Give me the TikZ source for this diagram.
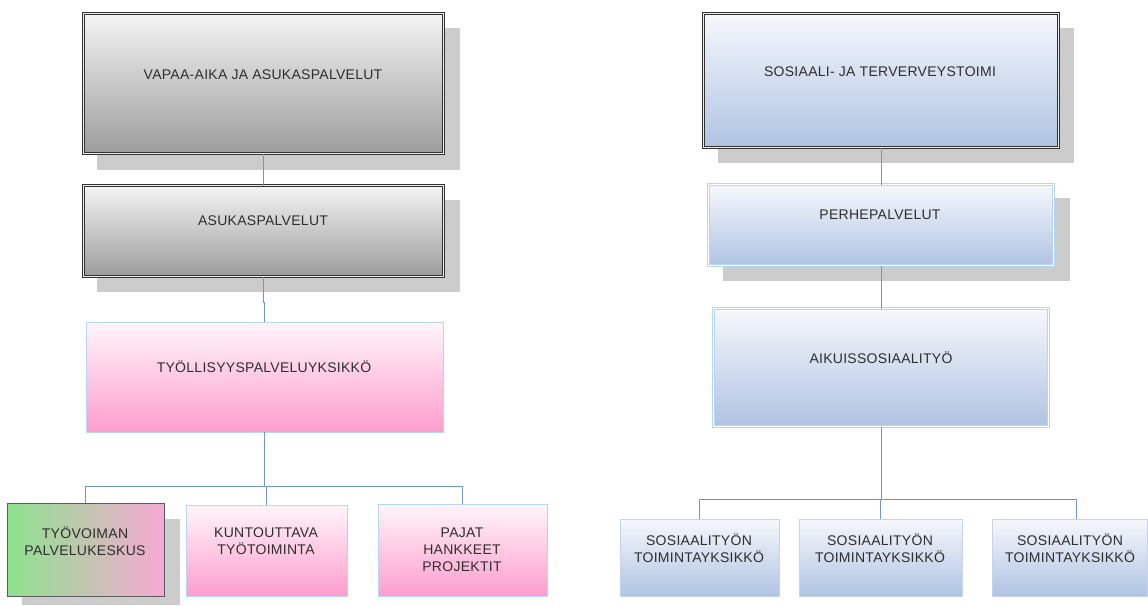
\documentclass[tikz,border=0pt]{standalone}
\usepackage{fontspec}
\setmainfont{Liberation Sans}[LetterSpace=2]
\usetikzlibrary{calc}
\definecolor{connc}{HTML}{7196CE}
\definecolor{shadowc}{HTML}{CCCCCC}
\definecolor{greytop}{HTML}{F4F4F4}
\definecolor{greybot}{HTML}{9C9C9C}
\definecolor{bluetop}{HTML}{F6F8FC}
\definecolor{bluebot}{HTML}{AFC3E2}
\definecolor{pinktop}{HTML}{FFF5FA}
\definecolor{pinkbot}{HTML}{FD9DCD}
\definecolor{greenl}{HTML}{8DE28D}
\definecolor{pinkr}{HTML}{F6A9D4}
\definecolor{darkline}{HTML}{333333}
\definecolor{lblue}{HTML}{B5D6F7}
\definecolor{gblue}{HTML}{C6D3E8}
\definecolor{txtc}{HTML}{2E2E2E}
\tikzset{
  boxbase/.style={rectangle, inner sep=0pt, outer sep=0pt},
  greybox/.style={boxbase, top color=greytop, bottom color=greybot, draw=darkline,
    line width=0.8pt, double=white!85!gray, double distance=1.4pt},
  bluedark/.style={boxbase, top color=bluetop, bottom color=bluebot, draw=darkline,
    line width=0.8pt, double=white!85!gray, double distance=1.4pt},
  bluelight/.style={boxbase, top color=bluetop, bottom color=bluebot, draw=lblue,
    line width=0.8pt, double=white, double distance=1.4pt},
  pinkbox/.style={boxbase, top color=pinktop, bottom color=pinkbot, draw=lblue, line width=0.8pt},
  mixbox/.style={boxbase, left color=greenl, right color=pinkr, draw=darkline!80, line width=0.9pt},
  bluesmall/.style={boxbase, top color=bluetop, bottom color=bluebot, draw=gblue, line width=0.8pt},
  shadowbox/.style={fill=shadowc, draw=none},
  lbl/.style={font=\fontsize{14}{17}\selectfont, text=txtc, align=center, inner sep=0pt},
  conn/.style={draw=connc, line width=0.8pt}
}
\begin{document}
\begin{tikzpicture}[x=1pt,y=-1pt]
\useasboundingbox[fill=white] (0,0) rectangle (1148,605);
% shadows
\fill[shadowbox] (97,28) rectangle (460,170);
\fill[shadowbox] (97,200) rectangle (460,292);
\fill[shadowbox] (22,519) rectangle (180,605);
\fill[shadowbox] (718,28) rectangle (1074,163);
\fill[shadowbox] (723,198) rectangle (1070,281);
% left boxes
\node[greybox, minimum width=360pt, minimum height=140pt] (b1) at (263.5,83.5) {};
\node[greybox, minimum width=360pt, minimum height=91pt] (b2) at (263.5,231) {};
\node[pinkbox, minimum width=357pt, minimum height=110pt] (b3) at (264.5,377) {};
\node[mixbox, minimum width=157pt, minimum height=93pt] (b4) at (85.5,549.5) {};
\node[pinkbox, minimum width=161pt, minimum height=91pt] (b5) at (266.5,550.5) {};
\node[pinkbox, minimum width=169pt, minimum height=92pt] (b6) at (462.5,550) {};
% right boxes
\node[bluedark, minimum width=355pt, minimum height=134pt] (r1) at (881,80.5) {};
\node[bluelight, minimum width=345pt, minimum height=81pt] (r2) at (881,225) {};
\node[bluelight, minimum width=335pt, minimum height=118pt] (r3) at (881,367.5) {};
\node[bluesmall, minimum width=159pt, minimum height=77pt] (r4) at (699.5,557.5) {};
\node[bluesmall, minimum width=163pt, minimum height=77pt] (r5) at (880.5,557.5) {};
\node[bluesmall, minimum width=155pt, minimum height=77pt] (r6) at (1069.5,557.5) {};
% labels
\node[lbl] (t1) at (263,75) {VAPAA-AIKA JA ASUKASPALVELUT};
\node[lbl] (t2) at (263,221) {ASUKASPALVELUT};
\node[lbl] (t3) at (264,367) {TYÖLLISYYSPALVELUYKSIKKÖ};
\node[lbl] (t4) at (85,541) {TYÖVOIMAN\\PALVELUKESKUS};
\node[lbl] (t5) at (266,541) {KUNTOUTTAVA\\TYÖTOIMINTA};
\node[lbl] (t6) at (462,550) {PAJAT\\HANKKEET\\PROJEKTIT};
\node[lbl] (u1) at (880,72) {SOSIAALI- JA TERVERVEYSTOIMI};
\node[lbl] (u2) at (880,215) {PERHEPALVELUT};
\node[lbl] (u3) at (881,358) {AIKUISSOSIAALITYÖ};
\node[lbl] (u4) at (699,548) {SOSIAALITYÖN\\TOIMINTAYKSIKKÖ};
\node[lbl] (u5) at (880,548) {SOSIAALITYÖN\\TOIMINTAYKSIKKÖ};
\node[lbl] (u6) at (1070,548) {SOSIAALITYÖN\\TOIMINTAYKSIKKÖ};
% connectors left
\draw[conn] (b1.south) -- (b2.north);
\draw[conn] (b2.south) -- ++(0,26) -| (b3.north);
\draw[conn] (b3.south) -- ++(0,54) coordinate (hl);
\draw[conn] (hl) -| (b4.north);
\draw[conn] (hl) -| (b6.north);
\draw[conn] (hl) -| (b5.north);
% connectors right
\draw[conn] (r1.south) -- (r2.north);
\draw[conn] (r2.south) -- (r3.north);
\draw[conn] (r3.south) -- ++(0,73) coordinate (hr);
\draw[conn] (hr) -| (r4.north);
\draw[conn] (hr) -| (r5.north);
\draw[conn] (hr) -| ([xshift=6.5pt]r6.north);
\end{tikzpicture}
\end{document}
